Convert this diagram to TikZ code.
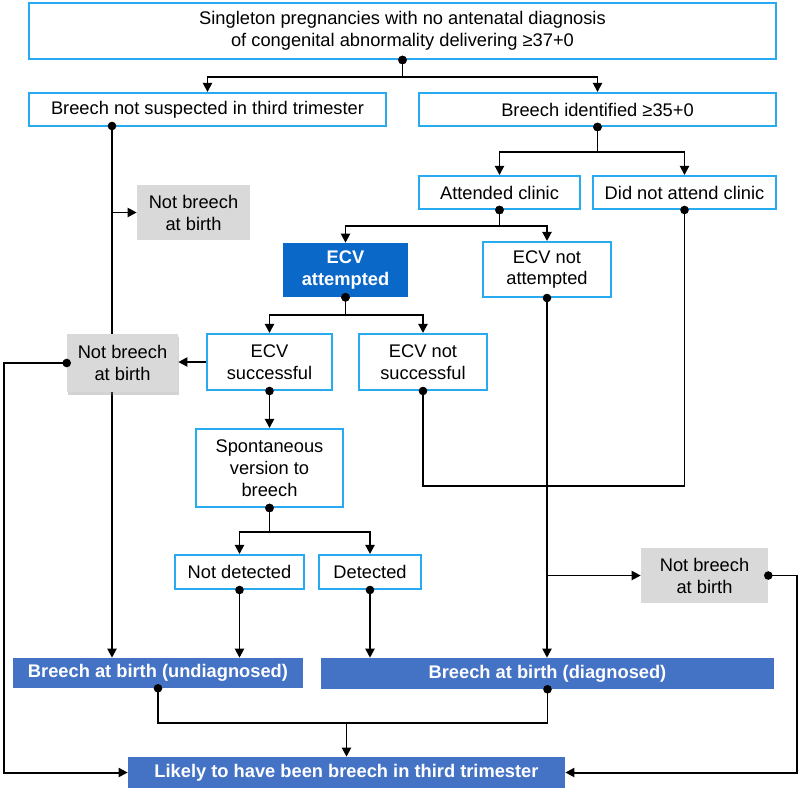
\documentclass[tikz,border=0pt]{standalone}
\usepackage{fontspec}
\setmainfont{Liberation Sans}
\usetikzlibrary{arrows.meta, shadows}
\definecolor{edgeblue}{RGB}{40,170,240}
\definecolor{ecvblue}{RGB}{10,104,200}
\definecolor{birthblue}{RGB}{68,114,196}
\definecolor{notgrey}{RGB}{217,217,217}
\newcommand{\boxfont}{\fontsize{13}{15.6}\selectfont}
\tikzstyle{rect} = [rectangle, 
			draw=edgeblue, 
			line width=1.4pt, 
			fill=white, 
			align=center, 
			inner sep=0pt]
\tikzstyle{grect} = [rectangle, 
			fill=notgrey, 
			align=center, 
			inner sep=0pt]
\tikzstyle{brect} = [rectangle, 
			fill=birthblue, 
			text=white, 
			font=\boxfont\bfseries, 
			align=center, 
			inner sep=0pt]
\tikzstyle{flow} = [line width=1.4pt, 
			{Circle[length=6pt]}-{Triangle[length=6.5pt, width=6.5pt]}, 
			shorten <=-3pt]
\tikzstyle{plain} = [line width=1.4pt, 
			-{Triangle[length=6.5pt, width=6.5pt]}]
\tikzstyle{linkdots} = [line width=1.4pt, 
			{Circle[length=6pt]}-{Circle[length=6pt]}, 
			shorten <=-3pt, 
			shorten >=-3pt]

\begin{document}
\begin{tikzpicture}[x=0.025cm, y=-0.025cm, every node/.style={font=\boxfont}]
	\useasboundingbox (0,0) rectangle (800,791);
	% boxes
	\node [rect, minimum width=18.675cm, minimum height=1.4cm] (cohort) at (402.5,31)
		{Singleton pregnancies with no antenatal diagnosis\\of congenital abnormality delivering ≥37+0};
	\node [rect, minimum width=8.925cm, minimum height=0.825cm] (nosuspect) at (207.5,109.5) {Breech not suspected in third trimester};
	\node [rect, minimum width=8.925cm, minimum height=0.825cm] (identified) at (597.5,109.5) {Breech identified ≥35+0};
	\node [rect, minimum width=4.025cm, minimum height=0.825cm] (attended) at (499.5,192.5) {Attended clinic};
	\node [rect, minimum width=4.575cm, minimum height=0.825cm] (notattended) at (684.5,192.5) {Did not attend clinic};
	\node [grect, minimum width=2.825cm, minimum height=1.375cm] (notbreech-a) at (193.5,212.5) {Not breech\\at birth};
	\node [rectangle, fill=ecvblue, text=white, font=\boxfont\bfseries, align=center, inner sep=0pt,
		minimum width=3.125cm, minimum height=1.35cm] (ecv) at (345.5,270) {ECV\\attempted};
	\node [rect, minimum width=3.2cm, minimum height=1.375cm] (ecv-none) at (547,269.5) {ECV not\\attempted};
	\node [rect, minimum width=3.125cm, minimum height=1.4cm] (ecv-ok) at (269.5,362) {ECV\\successful};
	\node [rect, minimum width=3.2cm, minimum height=1.4cm] (ecv-fail) at (423,362) {ECV not\\successful};
	\node [rect, minimum width=3.675cm, minimum height=1.95cm] (reverted) at (269.5,468) {Spontaneous\\version to\\breech};
	\node [rect, minimum width=3.225cm, minimum height=0.85cm] (undetected) at (239.5,572) {Not detected};
	\node [rect, minimum width=2.55cm, minimum height=0.85cm] (detected) at (370,572) {Detected};
	\node [grect, minimum width=3.175cm, minimum height=1.375cm] (notbreech-c) at (704.5,575.5) {Not breech\\at birth};
	\node [brect, minimum width=7.25cm, minimum height=0.75cm] (undiagnosed) at (158,673) {Breech at birth (undiagnosed)};
	\node [brect, minimum width=11.325cm, minimum height=0.775cm] (diagnosed) at (547.5,673.5) {Breech at birth (diagnosed)};
	\node [brect, minimum width=10.925cm, minimum height=0.775cm] (likely) at (346.5,772.5) {Likely to have been breech in third trimester};
	\coordinate (nosuspect-out) at (112,126);

	% connectors
	\draw [flow] (cohort.south) -- ++(0,17) -| (nosuspect.north);
	\draw [flow] (cohort.south) -- ++(0,17) -| (identified.north);
	\draw [flow] (identified.south) -- ++(0,25) -| (attended.north);
	\draw [flow] (identified.south) -- ++(0,25) -| (notattended.north);
	\draw [flow] (attended.south) -- ++(0,16) -| (ecv.north);
	\draw [flow] (attended.south) -- ++(0,16) -| (ecv-none.north);
	\draw [flow] (ecv.south) -- ++(0,18) -| (ecv-ok.north);
	\draw [flow] (ecv.south) -- ++(0,18) -| (ecv-fail.north);
	\draw [flow] (ecv-ok.south) -- (reverted.north);
	\draw [flow] (reverted.south) -- ++(0,24) -| (undetected.north);
	\draw [flow] (reverted.south) -- ++(0,24) -| (detected.north);
	\draw [flow] (undetected.south) -- (undetected.south |- undiagnosed.north);
	\draw [flow] (detected.south) -- (detected.south |- diagnosed.north);
	\draw [flow] (nosuspect-out) -- (nosuspect-out |- undiagnosed.north);
	\draw [plain] (nosuspect-out |- notbreech-a.west) -- (notbreech-a.west);
	\draw [flow] (ecv-none.south) -- (ecv-none.south |- diagnosed.north);
	\draw [plain] (ecv-none.south |- notbreech-c.west) -- (notbreech-c.west);
	\draw [linkdots] (ecv-fail.south) -- ++(0,95) -| (notattended.south);

	% sits over the lane line
	\node [grect, minimum width=2.775cm, minimum height=1.45cm,
		drop shadow={opacity=0.35, shadow xshift=0.6pt, shadow yshift=-2pt}] (notbreech-b) at (122.5,363) {Not breech\\at birth};
	\draw [plain] (ecv-ok.west) -- (ecv-ok.west -| notbreech-b.east);
	\draw [flow] (notbreech-b.west) -- ++(-63,0) |- (likely.west);
	\draw [flow] (notbreech-c.east) -- ++(29,0) |- (likely.east);
	\draw [linkdots] (undiagnosed.south) -- ++(0,35) coordinate (merge) -| (diagnosed.south);
	\draw [plain] (merge -| likely.north) -- (likely.north);
\end{tikzpicture}
\end{document}
